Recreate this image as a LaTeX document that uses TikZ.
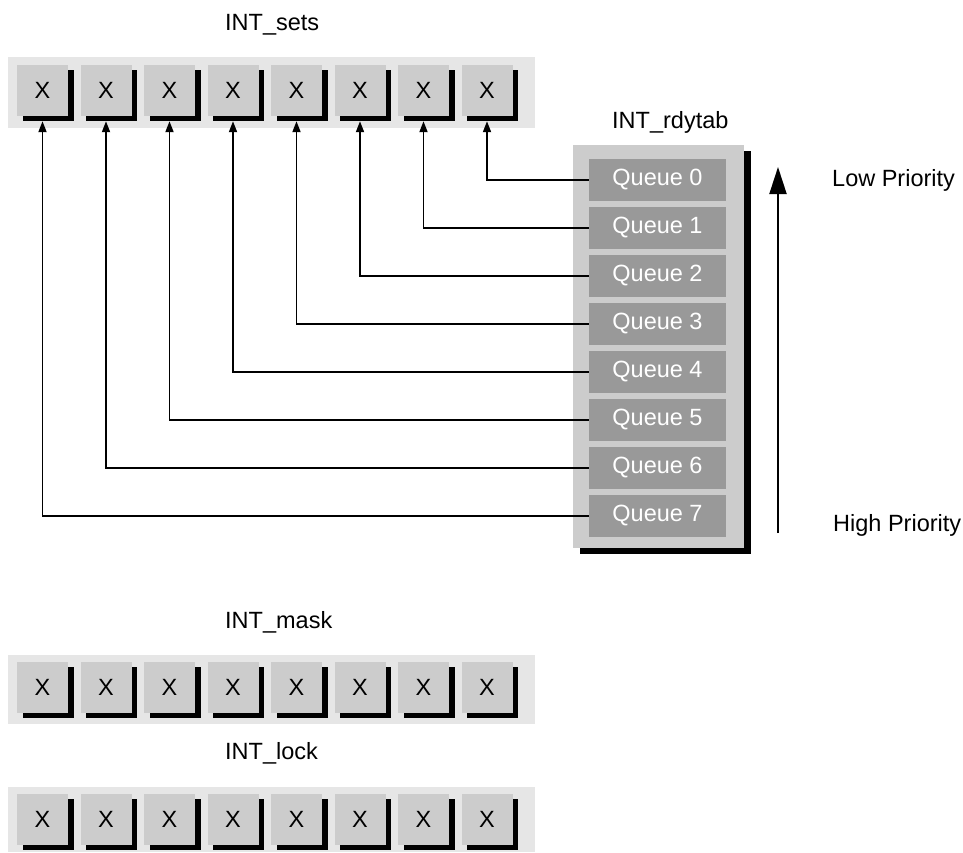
\documentclass[tikz,border=0pt]{standalone}
\usepackage{fontspec}
\setmainfont{Liberation Sans}
\usetikzlibrary{arrows.meta,shadows,calc}
\definecolor{barfill}{HTML}{E6E6E6}
\definecolor{boxfill}{HTML}{CCCCCC}
\definecolor{queuefill}{HTML}{999999}
\tikzset{
  bar/.style={fill=barfill,draw=none},
  xbox/.style={rectangle,fill=boxfill,draw=none,minimum width=51pt,minimum height=51pt,inner sep=0pt,
    general shadow={fill=black,shadow xshift=5.5pt,shadow yshift=-5pt}},
  panel/.style={rectangle,fill=boxfill,draw=none,inner sep=0pt,
    general shadow={fill=black,shadow xshift=6.5pt,shadow yshift=-6pt}},
  queue/.style={rectangle,fill=queuefill,draw=none,text=white,minimum width=137pt,minimum height=42pt,inner sep=0pt},
  lbl/.style={anchor=west,inner sep=0pt},
  conn/.style={line width=1.8pt,-{Triangle[length=11pt,width=8pt]}},
  prio/.style={line width=2pt,-{Triangle[length=27pt,width=17pt]}},
}
\begin{document}
\begin{tikzpicture}[x=1pt,y=-1pt,font=\fontsize{23.5}{28}\selectfont]
\useasboundingbox (0,0) rectangle (963,852);
% bars
\fill[bar] (8,57) rectangle (535,128);
\fill[bar] (8,655) rectangle (535,724);
\fill[bar] (8,787) rectangle (535,852);
% boxes
\foreach \i in {0,...,7}{
  \node[xbox] (s\i) at ({42.5+63.5*\i},90.5) {X};
  \node[xbox] (m\i) at ({42.5+63.5*\i},687.5) {X};
  \node[xbox] (l\i) at ({42.5+63.5*\i},819.5) {X};
}
% labels
\node[lbl] (lsets) at (225,25) {INT\_sets};
\node[lbl] (lmask) at (225,622) {INT\_mask};
\node[lbl] (llock) at (225,753) {INT\_lock};
\node[lbl] (lrdy) at (612,122) {INT\_rdytab};
\node[lbl] (llow) at (832,180) {Low Priority};
\node[lbl] (lhigh) at (833,525) {High Priority};
% panel
\node[panel,minimum width=171pt,minimum height=403pt] (panel) at (658.5,346.5) {};
\foreach \k in {0,...,7}{
  \node[queue] (q\k) at (657.5,{180+48*\k}) {Queue \k};
}
% connectors
\foreach \k in {0,...,7}{
  \pgfmathtruncatemacro{\j}{7-\k}
  \draw[conn] (q\k.west) -| ($(s\j.south)+(0,5)$);
}
% priority arrow
\coordinate (pbot) at (778,533);
\coordinate (ptop) at (778,167);
\draw[prio] (pbot) -- (ptop);
\end{tikzpicture}
\end{document}
